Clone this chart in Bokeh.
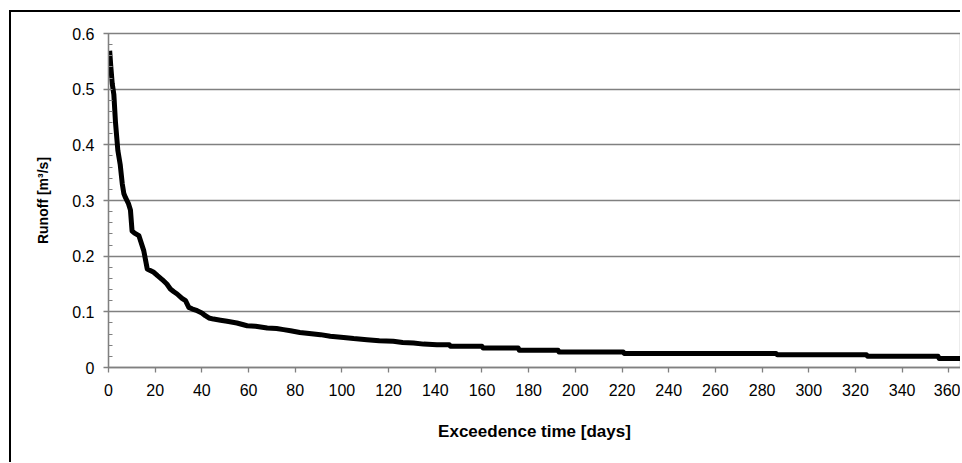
from bokeh.plotting import figure
from bokeh.models import FixedTicker, Range1d
from bokeh.embed import file_html
from bokeh.resources import INLINE

# Flow duration curve
days = [0.5, 1, 1.6, 2.3, 3, 4, 5, 5.9, 6.6, 7.3, 8.5, 9.4, 10.1, 11, 13, 15.1,
        16.6, 19.4, 21, 23, 25, 26.5, 28, 29.4, 31.5, 33, 34.4, 36, 38, 40,
        41.5, 43, 45, 48, 50.8, 55, 59.4, 63, 68, 72, 75, 78, 82, 86, 90.8,
        95, 100.7, 105, 110.7, 116, 122, 126, 130.7, 135, 140.7, 146, 146.5,
        160, 160.5, 175.5, 176, 192.6, 193, 220.5, 221, 286, 286.5, 324.7,
        325.2, 355.4, 355.9, 365]
runoff = [0.569, 0.54, 0.51, 0.49, 0.44, 0.39, 0.365, 0.33, 0.312, 0.305,
          0.295, 0.283, 0.245, 0.242, 0.237, 0.21, 0.177, 0.171, 0.165, 0.158,
          0.15, 0.141, 0.136, 0.132, 0.124, 0.12, 0.108, 0.105, 0.102, 0.098,
          0.093, 0.089, 0.087, 0.085, 0.083, 0.080, 0.075, 0.074, 0.071,
          0.070, 0.068, 0.066, 0.063, 0.061, 0.059, 0.056, 0.054, 0.052,
          0.050, 0.048, 0.047, 0.045, 0.044, 0.042, 0.041, 0.041, 0.038,
          0.038, 0.035, 0.035, 0.031, 0.031, 0.028, 0.028, 0.025, 0.025,
          0.023, 0.023, 0.020, 0.020, 0.016, 0.016]

x_ticks = list(range(0, 361, 20))
y_ticks = [0, 0.1, 0.2, 0.3, 0.4, 0.5, 0.6]
y_minor = [i * 0.02 for i in range(31)]
y_tick_labels = {0: "0", 0.1: "0.1", 0.2: "0.2", 0.3: "0.3", 0.4: "0.4",
                 0.5: "0.5", 0.6: "0.6"}

FONT = "Liberation Sans"
GREY = "#808080"

p = figure(output_backend="svg", toolbar_location=None,
           frame_width=852, frame_height=334,
           min_border_left=97, min_border_right=0,
           min_border_top=21, min_border_bottom=95,
           x_range=Range1d(0, 365), y_range=Range1d(0, 0.6))
p.styles = {"margin-left": "9px", "margin-top": "10px",
            "border-left": "2px solid #000000", "border-top": "2px solid #000000"}

p.line(days, runoff, line_color="black", line_width=5, line_join="round")

p.xgrid.visible = False
p.ygrid.grid_line_color = GREY
p.ygrid.grid_line_width = 1.3
p.ygrid.ticker = FixedTicker(ticks=y_ticks)

p.outline_line_color = GREY
p.outline_line_width = 1.3

p.xaxis.ticker = FixedTicker(ticks=x_ticks)
p.yaxis.ticker = FixedTicker(ticks=y_ticks, minor_ticks=y_minor)
p.yaxis.major_label_overrides = y_tick_labels

for ax in (p.xaxis[0], p.yaxis[0]):
    ax.axis_line_color = GREY
    ax.axis_line_width = 1.3
    ax.major_tick_line_color = GREY
    ax.major_tick_line_width = 1.3
    ax.major_tick_out = 5
    ax.major_tick_in = 0
    ax.major_label_text_font = FONT
    ax.major_label_text_font_size = "16px"
    ax.major_label_text_color = "black"
    ax.axis_label_text_font = FONT
    ax.axis_label_text_font_style = "bold"
    ax.axis_label_text_color = "black"

p.xaxis.axis_label_text_font_size = "17px"
p.yaxis.axis_label_text_font_size = "14px"
p.xaxis.minor_tick_line_color = None
p.yaxis.minor_tick_line_color = GREY
p.yaxis.minor_tick_in = 4
p.yaxis.minor_tick_out = 0

p.xaxis.axis_label = "Exceedence time [days]"
p.yaxis.axis_label = "Runoff [m³/s]"
p.xaxis.major_label_standoff = 11
p.xaxis.axis_label_standoff = 23
p.yaxis.major_label_standoff = 9
p.yaxis.axis_label_standoff = 18

open("out.html", "w").write(file_html(p, INLINE))
